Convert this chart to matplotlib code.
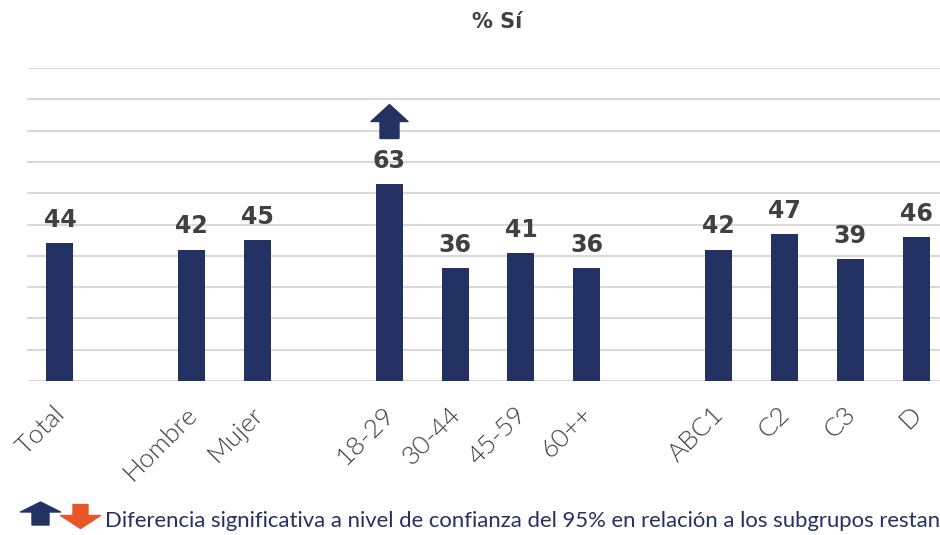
import matplotlib.pyplot as plt
import matplotlib.transforms as mtransforms
import numpy as np
from matplotlib.path import Path

categories = ["Total", "", "Hombre", "Mujer", "", "18-29", "30-44", "45-59", "60++",
              "", "ABC1", "C2", "C3", "D"]
values = [44, None, 42, 45, None, 63, 36, 41, 36, None, 42, 47, 39, 46]
significant_up = ["18-29"]

navy = "#233163"
orange = "#e8562a"
text_gray = "#404040"
grid_gray = "#d9d9d9"

plt.rcParams['font.family'] = ['Lato', 'DejaVu Sans']


def make_arrow(width, height, head_h, shaft_w, down=False):
    # arrow polygon centred on (0, 0), pointing up (or down)
    w, h = width / 2, height / 2
    s = shaft_w / 2
    neck = h - head_h
    pts = [(-s, -h), (s, -h), (s, neck), (w, neck), (0, h), (-w, neck), (-s, neck), (-s, -h)]
    if down:
        pts = [(px, -py) for px, py in pts]
    return Path(pts, [Path.MOVETO] + [Path.LINETO] * 6 + [Path.CLOSEPOLY])


big_up = make_arrow(37, 34, 17, 19)
leg_up = make_arrow(40, 23, 10, 17)
leg_down = make_arrow(40, 24, 13, 15, down=True)

fig = plt.figure(figsize=(9.4, 5.35), dpi=100)
ax = fig.add_axes([27 / 940, 1 - 381 / 535, 922 / 940, (381 - 68) / 535])

x = np.arange(len(categories))
arrow_shift = ax.transData + mtransforms.ScaledTranslation(0, 45 / 72, fig.dpi_scale_trans)
for xi, cat, v in zip(x, categories, values):
    if v is None:
        continue
    ax.bar(xi, v, width=0.41, color=navy, zorder=3)
    ax.annotate(f"{v}", (xi, v), xytext=(0, 8), textcoords="offset points",
                ha="center", va="bottom", fontsize=17, fontweight="bold",
                family=["DejaVu Sans"], color=text_gray, zorder=4)
    if cat in significant_up:
        ax.plot(xi, v, marker=big_up, markersize=37 * 0.72, color=navy,
                linestyle="none", zorder=4, clip_on=False, transform=arrow_shift)

ax.set_xlim(-0.5, len(categories) - 0.5)
ax.set_ylim(0, 100)
ax.set_yticks(np.arange(0, 101, 10))
ax.yaxis.grid(True, color=grid_gray, linewidth=1.5, zorder=0)
ax.tick_params(axis="y", left=False, labelleft=False)
ax.tick_params(axis="x", bottom=False, length=0, pad=8)
for s in ax.spines.values():
    s.set_visible(False)

ax.set_xticks(x)
ax.set_xticklabels(categories, rotation=45, ha="right", va="top",
                   rotation_mode="anchor", fontsize=19, fontweight=300,
                   color=text_gray)
label_shift = mtransforms.ScaledTranslation(-7 / 100, -10 / 100, fig.dpi_scale_trans)
for lbl in ax.get_xticklabels():
    lbl.set_transform(lbl.get_transform() + label_shift)

fig.text(497 / 940, 1 - 22 / 535, "% Sí", ha="center", va="center",
         fontsize=15, fontweight="bold", family=["DejaVu Sans"], color=text_gray)

# legend at bottom
fig.lines.append(plt.Line2D([40 / 940], [1 - 513 / 535], marker=leg_up, markersize=40 * 0.72,
                            color=navy, linestyle="none", transform=fig.transFigure))
fig.lines.append(plt.Line2D([80 / 940], [1 - 516 / 535], marker=leg_down, markersize=40 * 0.72,
                            color=orange, linestyle="none", transform=fig.transFigure))
# the reference cuts this sentence at the right edge after "restan"
fig.text(105 / 940, 1 - 521 / 535,
         "Diferencia significativa a nivel de confianza del 95% en relación a los subgrupos restan",
         ha="left", va="center", fontsize=15.9, color=navy)

fig.savefig("out.png", dpi=100)
